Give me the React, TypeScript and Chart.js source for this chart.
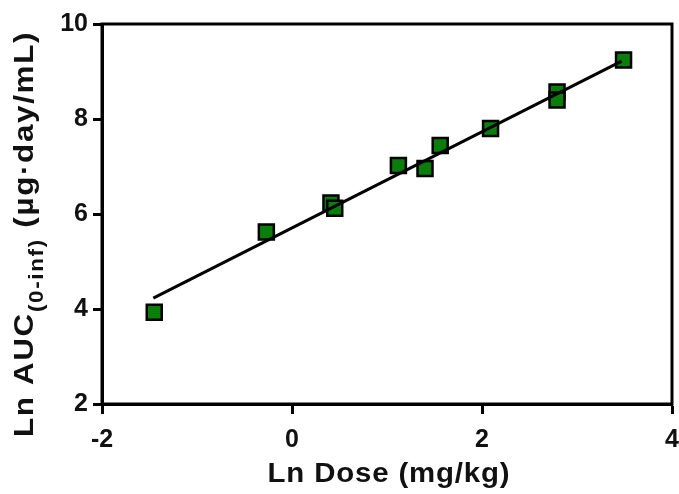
import React, { useEffect, useRef } from "react";
import { Chart, registerables } from "chart.js";

Chart.register(...registerables);

// Observed data (Ln dose vs Ln AUC)
const lnDose = [-1.45, -0.27, 0.41, 0.45, 1.12, 1.4, 1.56, 2.09, 2.79, 2.79, 3.49];
const lnAuc = [3.93, 5.62, 6.23, 6.12, 7.02, 6.96, 7.44, 7.8, 8.57, 8.4, 9.24];

// Regression line end points
const fitX = [-1.46, 3.47];
const fitY = [4.23, 9.22];

const xTicks = [-2, 0, 2, 4];
const yTicks = [2, 4, 6, 8, 10];

const xTitle = "Ln Dose (mg/kg)";
const yTitleMain = "Ln AUC";
const yTitleSub = "(0-inf)";
const yTitleUnit = " (µg·day/mL)";

const FONT = "'Liberation Sans', Arial, sans-serif";
const RIGHT_GAP = 7;

export default function App() {
  const ref = useRef<HTMLCanvasElement | null>(null);

  useEffect(() => {
    const canvas = ref.current;
    if (!canvas) return;

    const boxPlugin = {
      id: "boxAndTitles",
      afterLayout(chart: any) {
        const target = chart.width - RIGHT_GAP;
        const xs = chart.scales.x;
        if (xs && xs.right !== target) {
          xs.right = target;
          xs.width = target - xs.left;
          xs.configure();
          chart.chartArea.right = target;
          chart.chartArea.width = target - chart.chartArea.left;
        }
      },
      afterDatasetsDraw(chart: any) {
        const { ctx, chartArea } = chart;
        ctx.save();
        ctx.strokeStyle = "#000";
        ctx.lineWidth = 3;
        ctx.strokeRect(chartArea.left, chartArea.top, chartArea.right - chartArea.left, chartArea.bottom - chartArea.top);
        ctx.restore();
      },
      afterDraw(chart: any) {
        const { ctx } = chart;
        ctx.save();
        ctx.fillStyle = "#111";
        // x title
        ctx.font = `bold 28px ${FONT}`;
        (ctx as any).letterSpacing = "0.8px";
        ctx.textAlign = "center";
        ctx.textBaseline = "alphabetic";
        ctx.translate(389, 482);
        ctx.scale(1.05, 1);
        ctx.fillText(xTitle, 0, 0);
        ctx.restore();

        // y title with subscript
        ctx.save();
        ctx.fillStyle = "#111";
        const mainFont = `bold 28px ${FONT}`;
        const subFont = `bold 20px ${FONT}`;
        (ctx as any).letterSpacing = "1.5px";
        ctx.font = mainFont;
        const w1 = ctx.measureText(yTitleMain).width;
        const w3 = ctx.measureText(yTitleUnit).width;
        ctx.font = subFont;
        const w2 = ctx.measureText(yTitleSub).width;
        const total = w1 + w2 + w3;
        ctx.translate(33, 234);
        ctx.rotate(-Math.PI / 2);
        ctx.scale(1.12, 1);
        ctx.textAlign = "left";
        let x = -total / 2;
        ctx.font = mainFont;
        ctx.fillText(yTitleMain, x, 0);
        x += w1;
        ctx.font = subFont;
        ctx.fillText(yTitleSub, x, 10);
        x += w2;
        ctx.font = mainFont;
        ctx.fillText(yTitleUnit, x, 0);
        ctx.restore();
      },
    };

    const chart = new Chart(canvas, {
      type: "scatter",
      data: {
        datasets: [
          {
            type: "line",
            label: "fit",
            data: fitX.map((x, i) => ({ x, y: fitY[i] })),
            borderColor: "#000",
            borderWidth: 3,
            pointRadius: 0,
            fill: false,
            order: 0,
          },
          {
            label: "data",
            data: lnDose.map((x, i) => ({ x, y: lnAuc[i] })),
            pointStyle: "rect",
            pointRadius: 10.6,
            backgroundColor: "#0a7d0a",
            borderColor: "#000",
            borderWidth: 2.5,
            order: 1,
          },
        ],
      },
      options: {
        responsive: false,
        animation: false,
        layout: { padding: { top: 24, right: RIGHT_GAP, left: 0, bottom: 0 } },
        plugins: { legend: { display: false }, tooltip: { enabled: false } },
        scales: {
          x: {
            type: "linear",
            min: -2,
            max: 4,
            afterBuildTicks: (s: any) => {
              s.ticks = xTicks.map((v) => ({ value: v }));
            },
            afterFit: (s: any) => {
              s.height = 90;
            },
            grid: { drawOnChartArea: false, tickLength: 10, tickWidth: 3, tickColor: "#000" },
            border: { display: true, color: "#000", width: 3 },
            ticks: { color: "#111", font: { family: FONT, size: 25, weight: "bold" }, padding: 11, maxRotation: 0 },
          },
          y: {
            type: "linear",
            min: 2,
            max: 10,
            afterBuildTicks: (s: any) => {
              s.ticks = yTicks.map((v) => ({ value: v }));
            },
            afterFit: (s: any) => {
              s.width = 102;
            },
            grid: { drawOnChartArea: false, tickLength: 9, tickWidth: 3, tickColor: "#000" },
            border: { display: true, color: "#000", width: 3 },
            ticks: { color: "#111", font: { family: FONT, size: 25, weight: "bold" }, padding: 5 },
          },
        },
      },
      plugins: [boxPlugin],
    } as any);

    return () => chart.destroy();
  }, []);

  return (
    <div style={{ position: "fixed", left: 0, top: 0, width: 679, height: 494, background: "#fff" }}>
      <canvas ref={ref} width={679} height={494} style={{ display: "block" }} />
    </div>
  );
}
